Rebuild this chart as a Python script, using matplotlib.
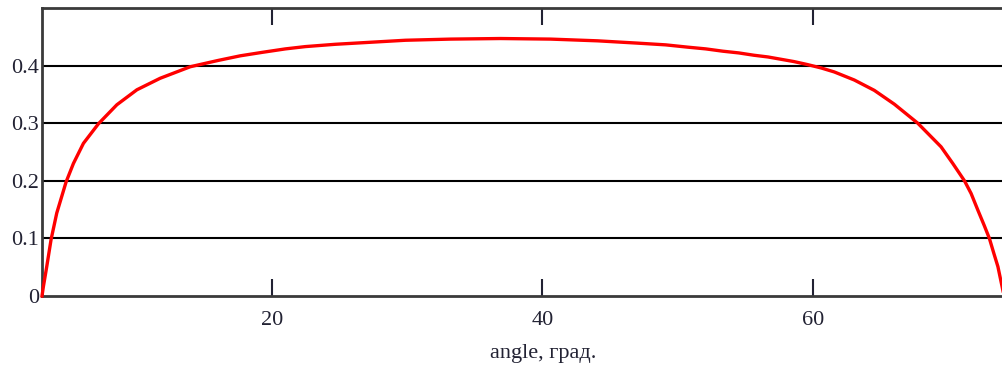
import matplotlib
matplotlib.use("Agg")
import matplotlib.pyplot as plt

# values
angle = [3.03, 3.13, 3.38, 3.70, 4.12, 4.81, 5.35, 6.09, 7.20, 8.56, 10.04,
         11.76, 13.98, 16.05, 17.68, 19.30, 21.01, 22.49, 24.70, 26.92, 29.88,
         33.21, 36.91, 40.61, 44.08, 47.04, 49.11, 50.74, 52.07, 53.33, 54.51,
         55.62, 56.66, 57.62, 58.58, 59.54, 60.58, 61.56, 63.04, 64.52, 66.00,
         67.73, 69.45, 70.32, 71.18, 71.67, 72.17, 72.63, 73.02, 73.35, 73.65,
         74.06]
value = [0.0, 0.016, 0.051, 0.098, 0.144, 0.198, 0.230, 0.265, 0.299, 0.332,
         0.358, 0.378, 0.398, 0.409, 0.417, 0.423, 0.429, 0.433, 0.437, 0.440,
         0.444, 0.446, 0.447, 0.446, 0.443, 0.439, 0.436, 0.432, 0.429, 0.425,
         0.422, 0.418, 0.415, 0.411, 0.407, 0.402, 0.396, 0.389, 0.375, 0.357,
         0.333, 0.300, 0.259, 0.230, 0.200, 0.178, 0.149, 0.123, 0.100, 0.074,
         0.051, 0.005]
x_ticks = [20, 40, 60]
y_ticks = [0, 0.1, 0.2, 0.3, 0.4]
y_labels = ["0", "0.1", "0.2", "0.3", "0.4"]

plt.rcParams['font.family'] = ['Liberation Serif', 'DejaVu Serif']

fig = plt.figure(figsize=(10.03, 3.65), dpi=100)
ax = fig.add_axes([42 / 1003, 69 / 365, 962 / 1003, 288 / 365])

for yv in y_ticks[1:]:
    ax.axhline(yv, color='black', lw=1.5, zorder=1)
ax.plot(angle, value, color='#ff0000', lw=2.4, zorder=3, clip_on=False,
        solid_joinstyle='round')

ax.set_xlim(3.03, 74.1)
ax.set_ylim(0, 0.5)
ax.set_xticks(x_ticks)
ax.set_yticks(y_ticks)
ax.set_yticklabels(y_labels)
ax.tick_params(axis='x', direction='in', length=12, width=1.5, top=True,
               labelsize=16, pad=11, colors='#222233')
ax.tick_params(axis='y', length=0, labelsize=16, pad=2, colors='#222233')
for s in ax.spines.values():
    s.set_color('#3a3a3a')
    s.set_linewidth(2)
ax.spines['right'].set_visible(False)
ax.set_xlabel("angle, град.", fontsize=16, color='#222233')
ax.xaxis.set_label_coords(0.521, -0.165)

fig.savefig("out.png", dpi=100)
